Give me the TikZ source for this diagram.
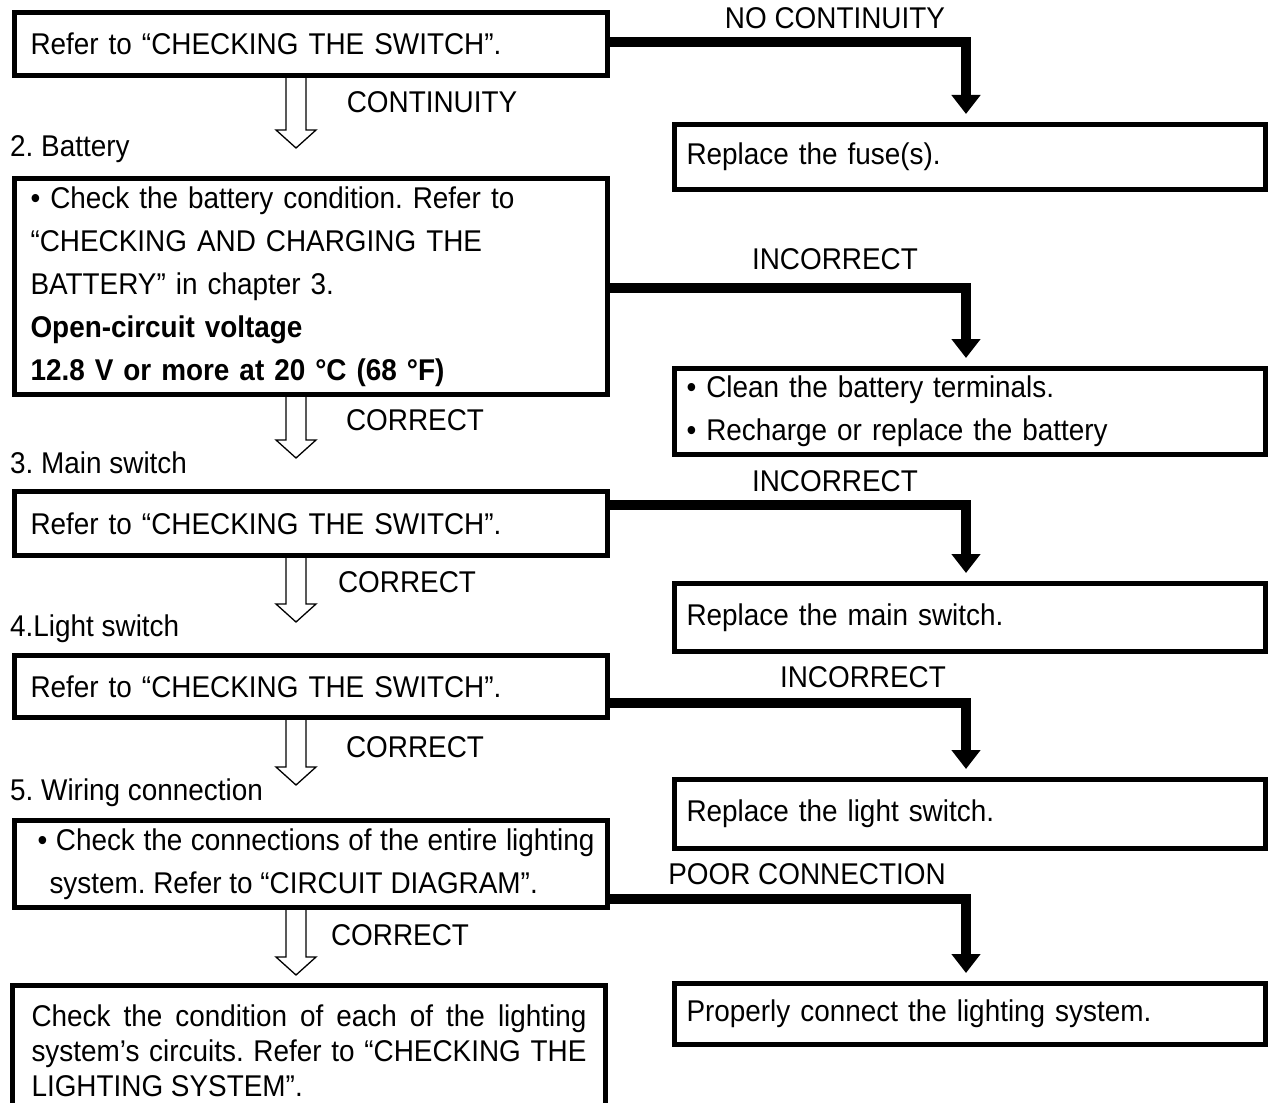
\documentclass[tikz,border=0pt]{standalone}
\usepackage{fontspec}
\setmainfont[FakeStretch=0.93]{Liberation Sans}
\usetikzlibrary{arrows.meta, calc, positioning}

\tikzset{
  stepbox/.style={draw, line width=5pt, anchor=north west, inner xsep=16pt, inner ysep=0pt,
    text width=561pt, minimum width=593pt, align=left},
  fixbox/.style={draw, line width=5pt, anchor=north west, inner xsep=12pt, inner ysep=0pt,
    text width=567pt, minimum width=591pt, align=left},
  fatarrow/.style={line width=10pt, -{Triangle[width=28pt,length=19pt]}, shorten >=8pt},
  okline/.style={line width=1.3pt},
  lbl/.style={inner sep=0pt}
}

% freccia vuota sotto un riquadro
\newcommand{\okarrow}[2]{%
  \draw[okline] ($(#1.south)+(-25,0)$) -- ++(0,#2-18) -- ++(-10,0) -- ++(20,18)
    -- ++(20,-18) -- ++(-10,0) -- ++(0,18-#2);}
% spazi elastici per le righe giustificate
\newcommand{\jspace}{\spaceskip=\fontdimen2\font plus 2em minus 0.1em\relax}

\begin{document}
\frenchspacing
\begin{tikzpicture}[x=1pt, y=-1pt, every node/.style={font=\fontsize{30}{43}\selectfont}]
    \useasboundingbox (0,0) rectangle (1273,1102);

    % Controlli
    \node[stepbox, minimum height=63pt] (sw1) at (12,10) {Refer to “CHECKING THE SWITCH”.};
    \node[stepbox, minimum height=216pt] (batt) at (12,176)
      {\textbullet\ Check the battery condition. Refer to\\ “CHECKING AND CHARGING THE\\
       BATTERY” in chapter 3.\\ \textbf{Open-circuit voltage}\\ \textbf{12.8 V or more at 20 °C (68 °F)}};
    \node[stepbox, minimum height=64pt] (mainsw) at (12,489) {Refer to “CHECKING THE SWITCH”.};
    \node[stepbox, minimum height=62pt] (lightsw) at (12,653) {Refer to “CHECKING THE SWITCH”.};
    \node[stepbox, minimum height=87pt, text width=557pt, inner xsep=18pt] (wiring) at (12,818)
      {\jspace\hspace*{5pt}\makebox[557pt][s]{\textbullet\ Check the connections of the entire lighting}\\
       \hspace*{17pt}system. Refer to “CIRCUIT DIAGRAM”.};
    \node[stepbox, minimum height=131pt, text width=555pt, inner xsep=19pt,
      font=\fontsize{30}{35}\selectfont] (circuits) at (10,983)
      {\jspace\makebox[555pt][s]{Check the condition of each of the lighting}\\
       \makebox[555pt][s]{system’s circuits. Refer to “CHECKING THE}\\
       LIGHTING SYSTEM”.};

    % Rimedi
    \node[fixbox, minimum height=65pt] (fix1) at (672,122) {Replace the fuse(s).};
    \node[fixbox, minimum height=86pt] (fix2) at (672,366)
      {\textbullet\ Clean the battery terminals.\\ \textbullet\ Recharge or replace the battery};
    \node[fixbox, minimum height=68pt] (fix3) at (672,581) {Replace the main switch.};
    \node[fixbox, minimum height=69pt] (fix4) at (672,777) {Replace the light switch.};
    \node[fixbox, minimum height=61pt] (fix5) at (672,981) {Properly connect the lighting system.};

    % Etichette
    \node[lbl, anchor=base] (nocont) at (835,29) {NO CONTINUITY};
    \node[lbl, anchor=base] (cont) at (432,113) {CONTINUITY};
    \node[lbl, anchor=base west] (t2) at (10,157) {2. Battery};
    \node[lbl, anchor=base] (inc2) at (835,269) {INCORRECT};
    \node[lbl, anchor=base] (ok2) at (415,430) {CORRECT};
    \node[lbl, anchor=base west] (t3) at (10,473) {3. Main switch};
    \node[lbl, anchor=base] (inc3) at (835,491) {INCORRECT};
    \node[lbl, anchor=base] (ok3) at (407,592) {CORRECT};
    \node[lbl, anchor=base west] (t4) at (10,636) {4.Light switch};
    \node[lbl, anchor=base] (inc4) at (863,687) {INCORRECT};
    \node[lbl, anchor=base] (ok4) at (415,757) {CORRECT};
    \node[lbl, anchor=base west] (t5) at (10,800) {5. Wiring connection};
    \node[lbl, anchor=base] (poor) at (807,884) {POOR CONNECTION};
    \node[lbl, anchor=base] (ok5) at (400,945) {CORRECT};

    % Frecce
    \okarrow{sw1}{70}
    \okarrow{batt}{61}
    \okarrow{mainsw}{64}
    \okarrow{lightsw}{65}
    \okarrow{wiring}{65}

    \draw[fatarrow] ([yshift=2pt]sw1.east) -| ([xshift=-4pt]fix1.north);
    \draw[fatarrow] ([yshift=-1.5pt]batt.east) -| ([xshift=-4pt]fix2.north);
    \draw[fatarrow] ([yshift=18.5pt]mainsw.east) -| ([xshift=-4pt]fix3.north);
    \draw[fatarrow] ([yshift=-16.5pt]lightsw.east) -| ([xshift=-4pt]fix4.north);
    \draw[fatarrow] ([yshift=-35pt]wiring.east) -| ([xshift=-4pt]fix5.north);
\end{tikzpicture}
\end{document}
